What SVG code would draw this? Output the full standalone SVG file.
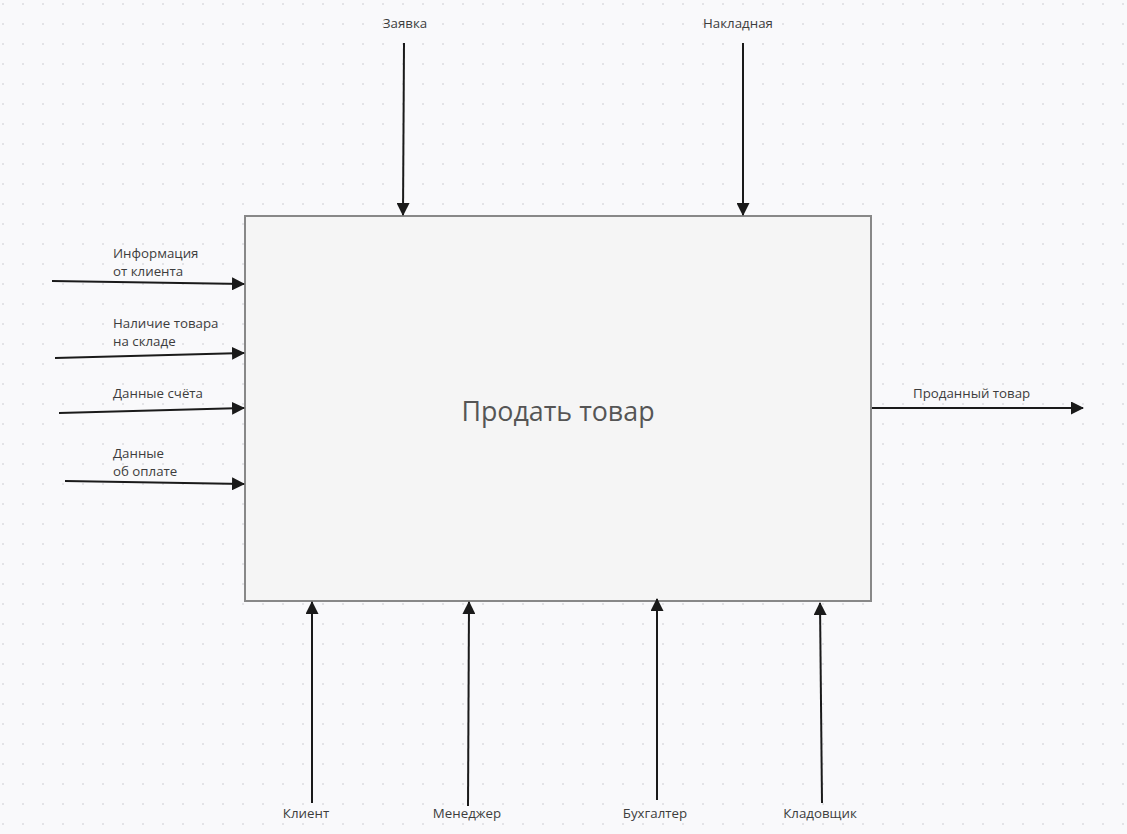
<svg xmlns="http://www.w3.org/2000/svg" width="1127" height="834" viewBox="0 0 1127 834">
<defs>
<pattern id="grid" x="0" y="0" width="20" height="20" patternUnits="userSpaceOnUse">
<circle cx="3" cy="4" r="1.1" fill="#dedee2"/>
</pattern>
<marker id="ah" viewBox="0 0 13 13" refX="12" refY="6.5" markerWidth="13" markerHeight="13" markerUnits="userSpaceOnUse" orient="auto">
<path d="M0,0 L13,6.5 L0,13 Z" fill="#1a1a1a"/>
</marker>
<style>
.lbl{font-family:"Open Sans","Noto Sans",sans-serif;font-size:13.3px;fill:#3d3d3d}
.c{stroke:#1a1a1a;stroke-width:2;fill:none;marker-end:url(#ah)}
.mid{text-anchor:middle}
</style>
</defs>
<rect width="1127" height="834" fill="#f9f9fb"/>
<rect width="1127" height="834" fill="url(#grid)"/>
<g id="node-main">
<rect x="245" y="216" width="626" height="385" fill="#f5f5f5" stroke="#888888" stroke-width="2"/>
<text x="558" y="421" text-anchor="middle" style="font-family:'Open Sans','Noto Sans',sans-serif;font-size:26.8px;fill:#555555">Продать товар</text>
</g>
<g id="connectors">
<line class="c" x1="52" y1="281" x2="244" y2="284"/>
<line class="c" x1="55" y1="358" x2="244" y2="353"/>
<line class="c" x1="59" y1="413" x2="244" y2="408"/>
<line class="c" x1="65" y1="481" x2="244" y2="484"/>
<line class="c" x1="872" y1="408" x2="1083" y2="408"/>
<line class="c" x1="404" y1="43" x2="403" y2="215"/>
<line class="c" x1="743" y1="43" x2="743" y2="215"/>
<line class="c" x1="312" y1="803" x2="312" y2="602"/>
<line class="c" x1="468" y1="806" x2="469" y2="602"/>
<line class="c" x1="657" y1="800" x2="657" y2="599"/>
<line class="c" x1="822" y1="803" x2="820" y2="603"/>
</g>
<g id="labels">
<text class="lbl" x="113" y="258">Информация</text>
<text class="lbl" x="113" y="276">от клиента</text>
<text class="lbl" x="113" y="328">Наличие товара</text>
<text class="lbl" x="113" y="346">на складе</text>
<text class="lbl" x="113" y="398">Данные счёта</text>
<text class="lbl" x="113" y="458">Данные</text>
<text class="lbl" x="113" y="476">об оплате</text>
<text class="lbl" x="913" y="398">Проданный товар</text>
<text class="lbl mid" x="405" y="28">Заявка</text>
<text class="lbl mid" x="738" y="28">Накладная</text>
<text class="lbl mid" x="306" y="818">Клиент</text>
<text class="lbl mid" x="467" y="818">Менеджер</text>
<text class="lbl mid" x="655" y="818">Бухгалтер</text>
<text class="lbl mid" x="820" y="818">Кладовщик</text>
</g>
</svg>
